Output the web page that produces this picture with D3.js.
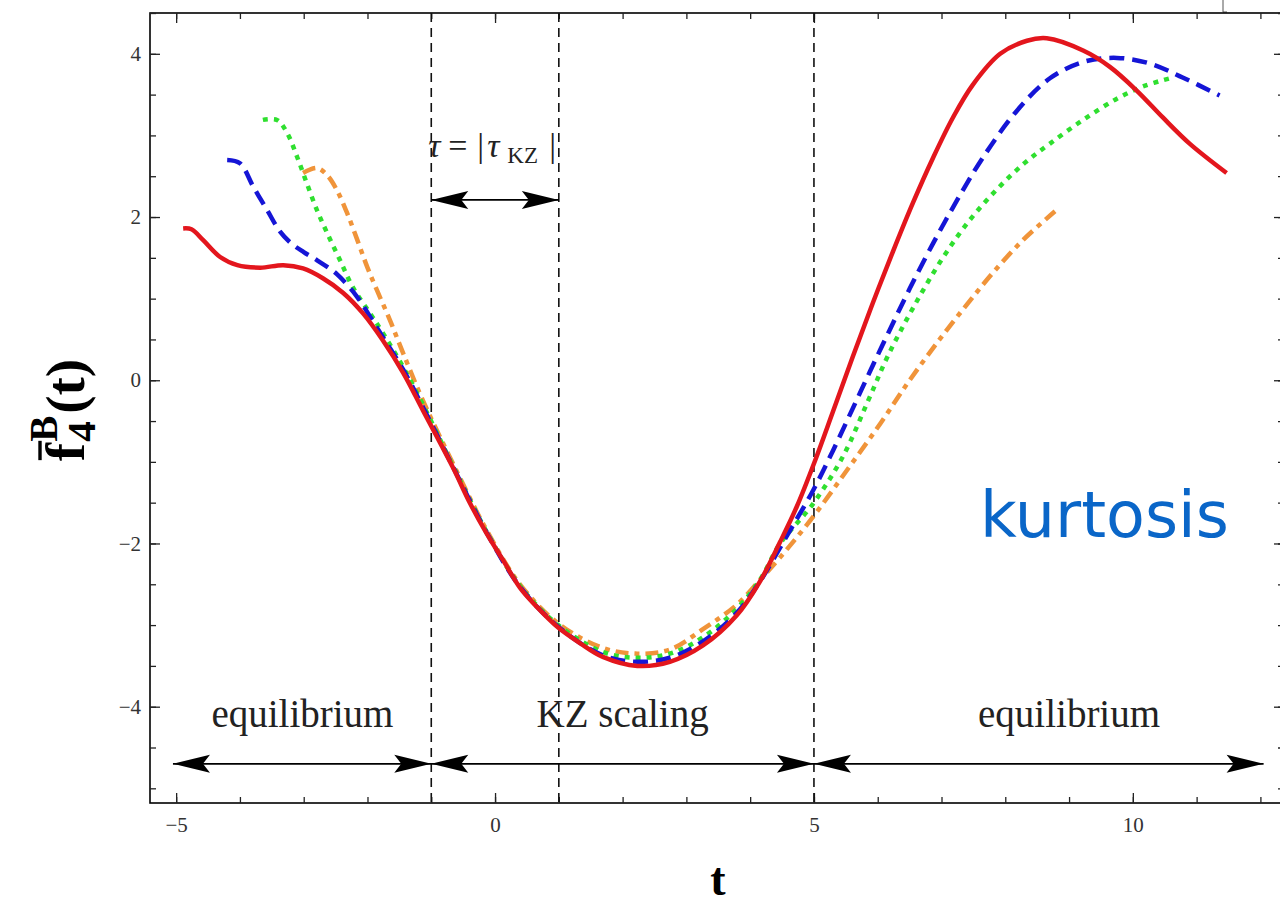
<!DOCTYPE html>
<html lang="en">
    <head>
        <meta charset="utf-8">
        <title>kurtosis</title>
        <script src="https://d3js.org/d3.v7.min.js"></script>
        <style type="text/css">
            body{
                margin: 0;
                background: white;
            }
            .ticklab text{
                font-family: "Liberation Serif", "DejaVu Serif", serif;
                font-size: 21px;
                fill: #333;
            }
            .region{
                font-family: "Liberation Serif", serif;
                font-size: 39px;
                fill: #222;
            }
        </style>
    </head>
    <body>
        <script type="text/javascript">
            // curves (t, f)
            const tRed = [-4.89,-4.76,-4.58,-4.31,-4.04,-3.68,-3.32,-3.01,-2.70,-2.38,-2.07,-1.76,-1.44,-1.13,-0.66,-0.39,-0.13,0.13,0.39,0.66,0.99,1.33,1.69,2.23,2.74,3.26,3.79,4.15,4.47,4.73,5.02,5.30,5.61,5.92,6.24,6.55,6.87,7.18,7.49,7.92,8.34,8.65,9.22,9.64,10.06,10.47,10.89,11.47];
            const fRed = [1.86,1.85,1.72,1.51,1.41,1.38,1.41,1.37,1.25,1.07,0.82,0.49,0.09,-0.37,-1.07,-1.51,-1.88,-2.21,-2.54,-2.78,-3.03,-3.22,-3.39,-3.50,-3.45,-3.25,-2.88,-2.47,-1.98,-1.55,-0.98,-0.38,0.29,0.94,1.58,2.17,2.73,3.22,3.62,4.00,4.16,4.19,4.04,3.84,3.55,3.22,2.90,2.54];

            const tBlue = [-4.20,-4.00,-3.79,-3.57,-3.37,-3.20,-3.00,-2.79,-2.48,-2.16,-1.96,-1.76,-1.44,-1.13,-0.66,-0.13,0.39,0.99,1.69,2.23,2.74,3.26,3.79,4.15,4.58,4.98,5.30,5.60,5.88,6.19,6.50,6.87,7.24,7.65,8.18,8.70,9.22,9.75,10.27,10.78,11.36];
            const fBlue = [2.70,2.66,2.37,2.08,1.82,1.68,1.57,1.47,1.30,1.02,0.78,0.53,0.13,-0.33,-1.06,-1.87,-2.53,-3.02,-3.37,-3.45,-3.40,-3.20,-2.85,-2.47,-1.90,-1.36,-0.86,-0.36,0.11,0.62,1.12,1.68,2.20,2.73,3.30,3.70,3.90,3.95,3.88,3.71,3.49];

            const tGreen = [-3.64,-3.42,-3.26,-3.10,-2.95,-2.79,-2.63,-2.43,-2.23,-1.96,-1.76,-1.44,-1.13,-0.66,-0.13,0.39,0.99,1.69,2.23,2.74,3.26,3.79,4.15,4.47,4.98,5.45,5.85,6.16,6.55,7.02,7.45,7.87,8.30,8.70,9.22,9.75,10.16,10.58];
            const fGreen = [3.19,3.19,3.03,2.73,2.41,2.08,1.80,1.47,1.14,0.82,0.58,0.16,-0.30,-1.05,-1.86,-2.52,-3.00,-3.33,-3.40,-3.35,-3.15,-2.80,-2.45,-2.00,-1.52,-0.94,-0.25,0.30,0.88,1.50,1.97,2.34,2.66,2.90,3.19,3.45,3.60,3.70];

            const tOrange = [-3.01,-2.79,-2.63,-2.48,-2.32,-2.16,-2.00,-1.85,-1.65,-1.44,-1.13,-0.66,-0.13,0.39,0.99,1.69,2.23,2.74,3.26,3.79,4.15,4.47,4.98,5.52,6.05,6.50,6.97,7.40,7.81,8.28,8.78];
            const fOrange = [2.54,2.60,2.51,2.33,2.05,1.72,1.38,1.10,0.74,0.33,-0.25,-1.02,-1.84,-2.50,-2.98,-3.28,-3.35,-3.30,-3.05,-2.75,-2.45,-2.17,-1.68,-1.10,-0.52,0.00,0.50,0.93,1.32,1.72,2.07];

            // ticks
            const xMajor = [-5, 0, 5, 10];
            const xMinor = d3.range(-5, 13, 1);
            const yMajor = [-4, -2, 0, 2, 4];
            const yMinor = d3.range(-5, 4.6, 0.5);

            // annotations
            const dashedT = [-1, 1, 5];
            const arrowT = [-5.05, -1, 5, 12.05];
            const tauArrowT = [-1, 1];
            const regionLabels = ["equilibrium", "KZ scaling", "equilibrium"];
            const regionT = [-3.02, 2.0, 9.0];

            //constants
            const w = 1280;
            const h = 904;

            const x = d3.scaleLinear().domain([-5.41, 12.37]).range([150, 1284]);
            const y = d3.scaleLinear().domain([-5.18, 4.5]).range([803, 13]);

            const svg = d3.select("body")
                          .append("svg")
                          .attr("width", w)
                          .attr("height", h);

            // odd little mark top right (cropped from a neighbour figure)
            svg.append("path")
               .attr("d", "M1223,0 V12 H1227")
               .attr("stroke", "#555")
               .attr("stroke-width", 1)
               .attr("fill", "none");

            // frame
            svg.append("rect")
               .attr("x", x.range()[0])
               .attr("y", y.range()[1])
               .attr("width", x.range()[1] - x.range()[0])
               .attr("height", y.range()[0] - y.range()[1])
               .attr("fill", "none")
               .attr("stroke", "black")
               .attr("stroke-width", 1.6);

            function frameAxis(axis, pos, sel){
                const g = svg.append("g").attr("transform", pos).call(axis);
                g.select(".domain").remove();
                g.selectAll(".tick line").attr("stroke", "#222").attr("stroke-width", 1.3);
                if(sel) g.attr("class", sel);
                return g;
            }

            const fmt = d3.format("");
            // bottom
            frameAxis(d3.axisBottom(x).tickValues(xMinor).tickSizeInner(-6).tickFormat(""), `translate(0,${y.range()[0]})`);
            frameAxis(d3.axisBottom(x).tickValues(xMajor).tickSizeInner(-10).tickPadding(14).tickFormat(fmt), `translate(0,${y.range()[0]})`, "ticklab");
            // top
            frameAxis(d3.axisTop(x).tickValues(xMinor).tickSizeInner(-6).tickFormat(""), `translate(0,${y.range()[1]})`);
            frameAxis(d3.axisTop(x).tickValues(xMajor).tickSizeInner(-10).tickFormat(""), `translate(0,${y.range()[1]})`);
            // left
            frameAxis(d3.axisLeft(y).tickValues(yMinor).tickSizeInner(-6).tickFormat(""), `translate(${x.range()[0]},0)`);
            frameAxis(d3.axisLeft(y).tickValues(yMajor).tickSizeInner(-10).tickPadding(9).tickFormat(fmt), `translate(${x.range()[0]},0)`, "ticklab");
            // right
            frameAxis(d3.axisRight(y).tickValues(yMinor).tickSizeInner(-6).tickFormat(""), `translate(${x.range()[1]},0)`);
            frameAxis(d3.axisRight(y).tickValues(yMajor).tickSizeInner(-10).tickFormat(""), `translate(${x.range()[1]},0)`);

            // dashed region borders
            svg.selectAll("line.vdash")
               .data(dashedT)
               .enter()
               .append("line")
               .attr("class", "vdash")
               .attr("x1", d => x(d)).attr("x2", d => x(d))
               .attr("y1", y.range()[1]).attr("y2", y.range()[0])
               .attr("stroke", "#111")
               .attr("stroke-width", 1.6)
               .attr("stroke-dasharray", "9,6");

            // curves
            const series = [
                {t: tRed, f: fRed, color: "#e3161d", dash: null},
                {t: tBlue, f: fBlue, color: "#1515d6", dash: "15,8"},
                {t: tGreen, f: fGreen, color: "#2fdf2f", dash: "5,6"},
                {t: tOrange, f: fOrange, color: "#f0943a", dash: "13,6,5,6"}
            ];

            const line = d3.line()
                           .x(d => x(d[0]))
                           .y(d => y(d[1]))
                           .curve(d3.curveCatmullRom.alpha(0.5));

            // orange first so red ends up on top like the original
            [3, 2, 1, 0].forEach(i => {
                const s = series[i];
                svg.append("path")
                   .datum(d3.zip(s.t, s.f))
                   .attr("d", line)
                   .attr("fill", "none")
                   .attr("stroke", s.color)
                   .attr("stroke-width", 4.5)
                   .attr("stroke-dasharray", s.dash);
            });

            // arrows
            const head = "M0,0 L-37,-9 L-30,0 L-37,9 Z";
            function dblArrow(t0, t1, yy){
                svg.append("line")
                   .attr("x1", x(t0)).attr("x2", x(t1))
                   .attr("y1", yy).attr("y2", yy)
                   .attr("stroke", "black").attr("stroke-width", 1.6);
                svg.append("path").attr("d", head)
                   .attr("transform", `translate(${x(t1)},${yy})`);
                svg.append("path").attr("d", head)
                   .attr("transform", `translate(${x(t0)},${yy}) rotate(180)`);
            }
            for(let i = 0; i < arrowT.length - 1; i++){
                dblArrow(arrowT[i], arrowT[i+1], y(-4.7));
            }
            dblArrow(tauArrowT[0], tauArrowT[1], y(2.21));

            // region labels
            svg.selectAll("text.region")
               .data(regionLabels)
               .enter()
               .append("text")
               .attr("class", "region")
               .attr("x", (d,i) => x(regionT[i]))
               .attr("y", y(-4.25))
               .attr("text-anchor", "middle")
               .text(d => d);

            // tau = |tau_KZ|
            const x0 = x(-1);
            const tau = svg.append("text")
               .attr("y", 157)
               .attr("font-family", "Liberation Serif, serif")
               .attr("font-size", 34)
               .attr("fill", "#222");
            tau.append("tspan").attr("x", x0 - 3).attr("font-style", "italic").text("τ");
            tau.append("tspan").attr("x", x0 + 17).text("=");
            tau.append("tspan").attr("x", x0 + 46).text("|");
            tau.append("tspan").attr("x", x0 + 56).attr("font-style", "italic").text("τ");
            tau.append("tspan").attr("x", x0 + 76).attr("font-size", 23).attr("dy", 6).text("KZ");
            tau.append("tspan").attr("x", x0 + 118).attr("dy", -6).text("|");

            // x label
            svg.append("text")
               .attr("x", 718)
               .attr("y", 895)
               .attr("text-anchor", "middle")
               .attr("font-family", "Liberation Serif, serif")
               .attr("font-weight", "bold")
               .attr("font-size", 46)
               .text("t");

            // y label, built in rotated coordinates
            const yl = svg.append("g")
                          .attr("transform", "translate(84,410) rotate(-90)")
                          .attr("font-family", "Liberation Serif, serif")
                          .attr("font-weight", "bold");
            const fT = yl.append("text").attr("font-size", 55).text("f");
            const wf = fT.node().getComputedTextLength();
            const subT = yl.append("text").attr("font-size", 41).attr("x", wf + 1).attr("y", 11).text("4");
            const supT = yl.append("text").attr("font-size", 39).attr("x", wf + 1).attr("y", -27).text("B");
            const ws = Math.max(subT.node().getComputedTextLength(), supT.node().getComputedTextLength());
            const pT = yl.append("text").attr("font-size", 55).attr("x", wf + ws + 3).text("(t)");
            const total = wf + ws + 3 + pT.node().getComputedTextLength();
            yl.selectAll("text").attr("transform", `translate(${-total/2},0)`);
            yl.append("line")
              .attr("x1", -total/2 + 1).attr("x2", -total/2 + wf + 2)
              .attr("y1", -44).attr("y2", -44)
              .attr("stroke", "black").attr("stroke-width", 3.4);

            // kurtosis tag
            svg.append("text")
               .attr("x", 980)
               .attr("y", 537)
               .attr("font-family", "DejaVu Sans, sans-serif")
               .attr("font-size", 63.5)
               .attr("fill", "#0a66c8")
               .text("kurtosis");
        </script>
    </body>
</html>
